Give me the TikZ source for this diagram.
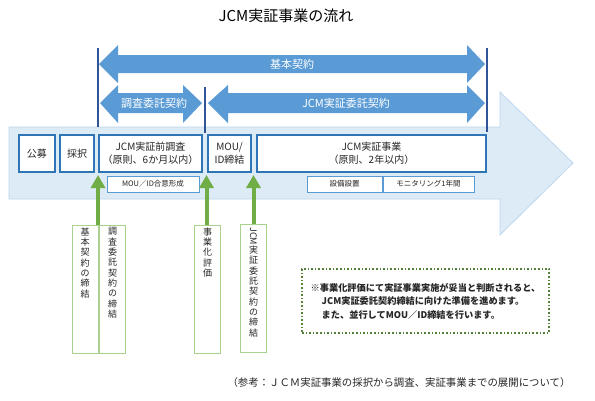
\documentclass[tikz,border=0pt]{standalone}
\usepackage{fontspec}
\usepackage{graphicx}
\setmainfont{Noto Sans CJK JP}
\usetikzlibrary{arrows.meta}
\definecolor{bgfill}{HTML}{DDEBF7}
\definecolor{bgdraw}{HTML}{BDD7EE}
\definecolor{arrblue}{HTML}{5B9BD5}
\definecolor{boxblue}{HTML}{2E75B6}
\definecolor{vblue}{HTML}{2F5597}
\definecolor{grn}{HTML}{70AD47}
\definecolor{lgrn}{HTML}{A9D18E}
\definecolor{dgrn}{HTML}{548235}
\definecolor{txt}{HTML}{262626}
\tikzset{
  stagebox/.style={draw=boxblue, line width=2pt, fill=white, inner sep=0pt, minimum height=37pt, align=center, text=txt, font=\fontsize{10}{13}\selectfont},
  subbox/.style={draw=arrblue, line width=0.8pt, fill=white, inner sep=0pt, minimum height=16pt, text=txt, font=\fontsize{7.5}{9}\selectfont},
  labbox/.style={draw=lgrn, line width=1pt, inner sep=0pt, minimum width=26pt, minimum height=128pt},
  vtext/.style={anchor=north, align=center, inner sep=0pt, text=txt, font=\fontsize{9}{10.3}\selectfont},
  grarrow/.style={draw=grn, line width=4pt, -{Triangle[width=14pt,length=13pt]}},
  vline/.style={draw=vblue, line width=2pt},
  dbarrow/.style={fill=arrblue},
  arrlabel/.style={text=white, font=\fontsize{11}{12}\selectfont, inner sep=0pt},
}
\begin{document}
\begin{tikzpicture}[x=1pt,y=-1pt]
\useasboundingbox (0,0) rectangle (595,400);
\fill[white] (0,0) rectangle (595,400);

% title
\node[font=\fontsize{15}{17}\selectfont, inner sep=0pt] (title) at (286,16) {JCM実証事業の流れ};

% background arrow
\path[fill=bgfill, draw=bgdraw, line width=0.8pt]
  (9,127) -- (500,127) -- (500,92) -- (573,163) -- (500,235) -- (500,199) -- (9,199) -- cycle;

% contract double arrows
\path[dbarrow] (99,64) -- (118,45) -- (118,55) -- (467,55) -- (467,45) -- (485,64)
  -- (467,83) -- (467,73) -- (118,73) -- (118,83) -- cycle;
\path[dbarrow] (100,103) -- (118,85) -- (118,93) -- (183,93) -- (183,85) -- (202,103)
  -- (183,123) -- (183,113) -- (118,113) -- (118,123) -- cycle;
\path[dbarrow] (208,103) -- (228,85) -- (228,93) -- (467,93) -- (467,85) -- (485,103)
  -- (467,123) -- (467,113) -- (228,113) -- (228,123) -- cycle;
\node[arrlabel] (kihon) at (292,64) {基本契約};
\node[arrlabel] (chosa) at (154,103) {調査委託契約};
\node[arrlabel] (jisshoitaku) at (346,103) {JCM実証委託契約};

% vertical lines
\draw[vline] (98,48) -- (98,127);
\draw[vline] (205,87) -- (205,133);
\draw[vline] (487,48) -- (487,132);

% stage boxes
\node[stagebox, minimum width=36pt] (koubo) at (37,153.5) {公募};
\node[stagebox, minimum width=34pt] (saitaku) at (77,153.5) {採択};
\node[stagebox, minimum width=103pt] (mae) at (150.5,153.5) {JCM実証前調査\\（原則、6か月以内）};
\node[stagebox, minimum width=43pt] (mou) at (229.5,153.5) {MOU/\\ID締結};
\node[stagebox, minimum width=229pt] (jigyo) at (371.5,153.5) {JCM実証事業\\（原則、2年以内）};

% sub boxes
\node[subbox, minimum width=92pt] (goui) at (153,184) {MOU／ID合意形成};
\node[subbox, minimum width=75pt] (setsubi) at (344.5,184) {設備設置};
\node[subbox, minimum width=91pt] (moni) at (428.5,184) {モニタリング1年間};

% label boxes
\node[labbox] (b1) at (85,289) {};
\node[labbox] (b2) at (112.5,289) {};
\node[labbox] (b3) at (207.5,289) {};
\node[labbox] (b4) at (253.5,288.5) {};
\node[vtext] (t1) at ([yshift=-3pt]b1.north) {基\\本\\契\\約\\の\\締\\結};
\node[vtext] (t2) at ([yshift=-3pt]b2.north) {調\\査\\委\\託\\契\\約\\の\\締\\結};
\node[vtext] (t3) at ([yshift=-3pt]b3.north) {事\\業\\化\\評\\価};
\node[vtext] (t4) at ([yshift=-3pt]b4.north) {\rotatebox{-90}{JCM}\\実\\証\\委\\託\\契\\約\\の\\締\\結};

% green arrows
\coordinate (g1) at (98,175);
\coordinate (g2) at (206.5,175);
\coordinate (g3) at (253.5,175);
\draw[grarrow] (g1 |- b1.north) -- (g1);
\draw[grarrow] (g2 |- b3.north) -- (g2);
\draw[grarrow] (b4.north) -- (g3);

% note
\node[draw=dgrn, dotted, line width=1.6pt, minimum width=247pt, minimum height=64pt, inner sep=0pt,
  align=left, text=txt, font=\bfseries\fontsize{9.2}{13.5}\selectfont] (note) at (425.5,301)
  {※事業化評価にて実証事業実施が妥当と判断されると、\\\hspace*{1.2em}JCM実証委託契約締結に向けた準備を進めます。\\\hspace*{1.2em}また、並行してMOU／ID締結を行います。};

% caption
\node[font=\fontsize{10.4}{12}\selectfont, text=txt, inner sep=0pt] (caption) at (399,383)
  {（参考：ＪＣＭ実証事業の採択から調査、実証事業までの展開について）};
\end{tikzpicture}
\end{document}
